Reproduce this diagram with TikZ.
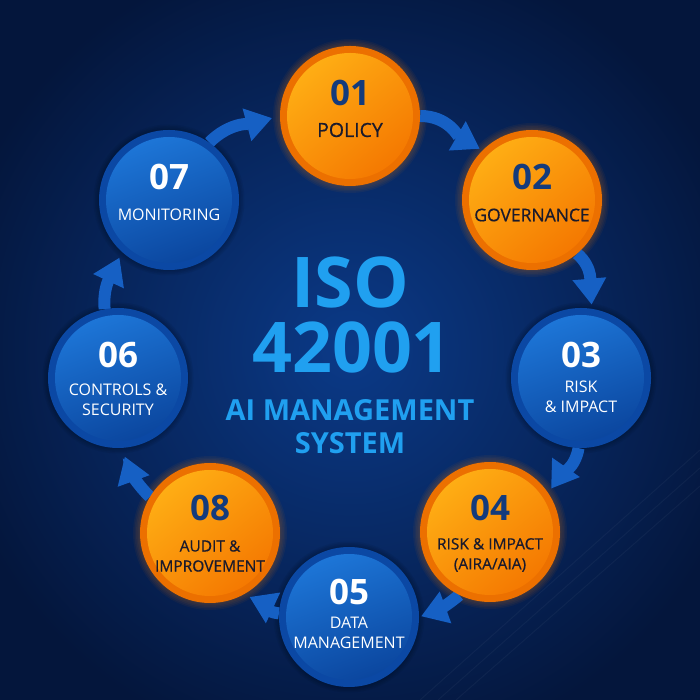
\documentclass[tikz,border=0pt]{standalone}
\usepackage{fontspec}
\setmainfont{Open Sans}
\newfontfamily\semifont[FakeBold=0.6]{Open Sans}
\usetikzlibrary{arrows.meta}
\definecolor{bgdark}{HTML}{04163C}
\definecolor{bgmid}{HTML}{0B3A88}
\definecolor{orR}{HTML}{EC7000}
\definecolor{orL}{HTML}{FFB015}
\definecolor{orD}{HTML}{F47600}
\definecolor{blR}{HTML}{0B48A4}
\definecolor{blL}{HTML}{1E78DA}
\definecolor{blD}{HTML}{0A449C}
\definecolor{numblue}{HTML}{143B7C}
\definecolor{darktxt}{HTML}{1A1A2C}
\definecolor{titleblue}{HTML}{20A0F0}
\definecolor{arrowblue}{HTML}{1660C4}
\pgfdeclarelayer{bglayer}
\pgfdeclarelayer{midlayer}
\pgfsetlayers{bglayer,midlayer,main}
\begin{document}
\begin{tikzpicture}[x=1pt,y=1pt,
  ball/.style={circle, minimum size=140pt, inner sep=0pt},
  orangeball/.style={ball, fill=orR, path picture={\shade[top color=orL, bottom color=orD, shading angle=40] (path picture bounding box.center) circle (63pt);}},
  blueball/.style={ball, fill=blR, path picture={\shade[top color=blL, bottom color=blD, shading angle=20] (path picture bounding box.center) circle (63pt);}},
  numo/.style={text=numblue, font=\fontsize{35}{35}\selectfont\bfseries, inner sep=0pt},
  numb/.style={text=white, font=\fontsize{35}{35}\selectfont\bfseries, inner sep=0pt},
  lblo/.style={text=darktxt, font=\fontsize{15.5}{20}\selectfont\semifont, align=center, inner sep=0pt},
  lblb/.style={text=white, font=\fontsize{16}{20}\selectfont, align=center, inner sep=0pt},
  title/.style={text=titleblue, font=\bfseries, inner sep=0pt},
  arr/.style={draw=arrowblue, line width=12pt, -{Triangle[width=32pt,length=26pt]}}
]
\useasboundingbox (0,0) rectangle (700,700);
\coordinate (p1) at (350,584);
\coordinate (p2) at (532,500);
\coordinate (p3) at (581,322);
\coordinate (p4) at (490,168);
\coordinate (p5) at (349,83);
\coordinate (p6) at (118,322);
\coordinate (p7) at (169,500);
\coordinate (p8) at (210,167);
\begin{pgfonlayer}{bglayer}
  \shade[inner color=bgmid, outer color=bgdark] (-60,-60) rectangle (760,760);
  \foreach \s in {0,18,36}{
    \draw[white, opacity=0.04, line width=1pt] (420+\s,0) -- (700,250-\s);
  }
  \foreach \p in {p1,p2,p4,p8}{
    \foreach \r in {71,72.5,74,75.5,77}{
      \fill[orange, opacity=0.05] (\p) circle (\r pt);
    }
  }
  \foreach \p in {p3,p5,p6,p7}{
    \foreach \r in {71,72.5,74,75.5}{
      \fill[black, opacity=0.06] (\p) circle (\r pt);
    }
  }
\end{pgfonlayer}

\node[orangeball] (c1) at (p1) {};
\node[orangeball] (c2) at (p2) {};
\node[blueball]   (c3) at (p3) {};
\node[orangeball] (c4) at (p4) {};
\node[blueball]   (c5) at (p5) {};
\node[blueball]   (c6) at (p6) {};
\node[blueball]   (c7) at (p7) {};
\node[orangeball] (c8) at (p8) {};

\node[numo] (n1) at ([yshift=23pt]c1.center) {01};
\node[lblo, font=\fontsize{19.5}{20}\selectfont\semifont] (t1) at ([yshift=-14pt]c1.center) {POLICY};
\node[numo] (n2) at ([yshift=23pt]c2.center) {02};
\node[lblo, font=\fontsize{17.5}{20}\selectfont\semifont] (t2) at ([yshift=-15pt]c2.center) {GOVERNANCE};
\node[numb] (n3) at ([yshift=23pt]c3.center) {03};
\node[lblb] (t3) at ([yshift=-19pt]c3.center) {RISK\\\& IMPACT};
\node[numo] (n4) at ([yshift=24pt]c4.center) {04};
\node[lblo] (t4) at ([yshift=-23pt]c4.center) {RISK \& IMPACT\\(AIRA/AIA)};
\node[numb] (n5) at ([yshift=25pt]c5.center) {05};
\node[lblb] (t5) at ([yshift=-16pt]c5.center) {DATA\\MANAGEMENT};
\node[numb] (n6) at ([yshift=23pt]c6.center) {06};
\node[lblb] (t6) at ([yshift=-22pt]c6.center) {CONTROLS \&\\SECURITY};
\node[numb] (n7) at ([yshift=23pt]c7.center) {07};
\node[lblb] (t7) at ([yshift=-15pt]c7.center) {MONITORING};
\node[numo] (n8) at ([yshift=25pt]c8.center) {08};
\node[lblo] (t8) at ([yshift=-23pt]c8.center) {AUDIT \&\\IMPROVEMENT};

\node[title, font=\fontsize{70}{70}\selectfont\bfseries] (iso) at (350,418) {ISO};
\node[title, font=\fontsize{70}{70}\selectfont\bfseries] (num) at (352,353) {42001};
\node[title, font=\fontsize{29}{29}\selectfont\bfseries] (aim) at (350,290) {AI MANAGEMENT};
\node[title, font=\fontsize{29}{29}\selectfont\bfseries] (sys) at (350,257) {SYSTEM};

\begin{pgfonlayer}{midlayer}
  \draw[arr, shorten >=3pt] (c1.0) to[out=0, in=150] (c2.135);
  \draw[arr, shorten >=4pt] (c2.-50) to[out=-40, in=95] (c3.81);
  \draw[arr, shorten >=5pt] (c3.-92) to[out=-100, in=55] (c4.34);
  \draw[arr, shorten >=2pt] (c4.-116) to[out=-140, in=20] (c5.0);
  \draw[arr, shorten >=6pt] (c5.177) to[out=175, in=-25] (c8.-61);
  \draw[arr, shorten >=9pt] (c8.149) to[out=135, in=-70] (c6.-87);
  \draw[arr, shorten >=6pt] (c6.101) to[out=95, in=-115] (c7.-132);
  \draw[arr, shorten >=8pt] (c7.55) to[out=45, in=195] (c1.180);
\end{pgfonlayer}
\end{tikzpicture}
\end{document}
